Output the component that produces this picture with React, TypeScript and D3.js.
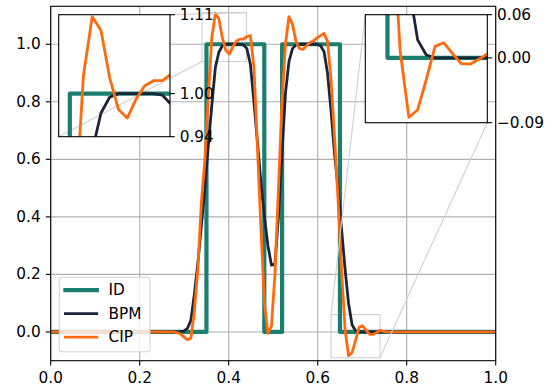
import React from "react";
import * as d3 from "d3";

// sample grid positions
const sampleX = [
  0, 0.2677, 0.2756, 0.2835, 0.2913, 0.2992, 0.3071, 0.315, 0.3228, 0.3307, 0.3386,
  0.3465, 0.3543, 0.3622, 0.3701, 0.378, 0.3858, 0.3937, 0.4016, 0.4094, 0.4173,
  0.4252, 0.4331, 0.4409, 0.4488, 0.4567, 0.4646, 0.4724, 0.4803, 0.4882, 0.4961,
  0.5039, 0.5118, 0.5197, 0.5276, 0.5354, 0.5433, 0.5512, 0.5591, 0.5669, 0.5748,
  0.5827, 0.5906, 0.5984, 0.6063, 0.6142, 0.622, 0.6299, 0.6378, 0.6457, 0.6535,
  0.6614, 0.6693, 0.6772, 0.685, 0.6929, 0.7008, 0.7087, 0.7165, 0.7244, 0.7323,
  0.7402, 0.748, 0.7559, 1,
];

const bpmValues = [
  0, 0, 0, 0, 0.001, 0.003, 0.012, 0.04, 0.13, 0.24, 0.37,
  0.5, 0.65, 0.79, 0.92, 0.973, 0.995, 1.0, 1.0, 1.0, 1.0,
  1.0, 0.998, 0.985, 0.93, 0.8, 0.66, 0.52, 0.4, 0.3, 0.232,
  0.235, 0.4, 0.62, 0.83, 0.94, 0.985, 0.998, 1.0, 1.0, 1.0,
  1.0, 1.0, 1.0, 0.995, 0.975, 0.9, 0.77, 0.62, 0.5, 0.36,
  0.22, 0.1, 0.025, 0.004, 0, 0, 0, 0, 0, 0,
  0, 0, 0, 0,
];

const cipValues = [
  0, 0, 0, -0.002, -0.007, -0.017, -0.027, -0.022, 0.07, 0.22, 0.45,
  0.6, 0.82, 1.025, 1.107, 1.088, 1.022, 0.978, 0.966, 0.992, 1.011,
  1.018, 1.018, 1.027, 1.03, 0.92, 0.64, 0.36, 0.1, -0.005, 0.02,
  0.2, 0.5, 0.8, 1.0, 1.096, 1.07, 1.01, 0.985, 0.982, 0.995,
  1.006, 1.012, 1.022, 1.03, 1.038, 1.01, 0.88, 0.68, 0.46, 0.22,
  0.01, -0.0825, -0.0723, -0.03, 0.016, 0.021, 0.006, -0.008, -0.0087, -0.002,
  0.0057, 0.002, 0, 0,
];

const idX = [0, 0.35, 0.35, 0.48, 0.48, 0.52, 0.52, 0.65, 0.65, 1];
const idValues = [0, 0, 1, 1, 0, 0, 1, 1, 0, 0];

const seriesNames = ["ID", "BPM", "CIP"];
const xTickValues = [0, 0.2, 0.4, 0.6, 0.8, 1.0];
const yTickValues = [0, 0.2, 0.4, 0.6, 0.8, 1.0];

const zoom1X = [0.34, 0.44];
const zoom1Y = [0.94, 1.11];
const zoom1Ticks = [0.94, 1.0, 1.11];
const zoom2X = [0.63, 0.74];
const zoom2Y = [-0.09, 0.06];
const zoom2Ticks = [-0.09, 0.0, 0.06];

const COLORS: Record<string, string> = { ID: "#1b7f6f", BPM: "#1c2438", CIP: "#ff6a0e" };
const WIDTHS: Record<string, number> = { ID: 4.2, BPM: 2.8, CIP: 2.8 };
const FONT = "'DejaVu Sans', sans-serif";
const FS = 15.3;
const TICK = 4.86;

type Pt = [number, number];

const seriesData: { name: string; pts: Pt[] }[] = [
  { name: "ID", pts: idX.map((v, i) => [v, idValues[i]] as Pt) },
  { name: "BPM", pts: sampleX.map((v, i) => [v, bpmValues[i]] as Pt) },
  { name: "CIP", pts: sampleX.map((v, i) => [v, cipValues[i]] as Pt) },
];

function Lines({ xs, ys, clip }: { xs: any; ys: any; clip: string }) {
  const line = d3
    .line<Pt>()
    .x((d) => xs(d[0]))
    .y((d) => ys(d[1]));
  return (
    <g clipPath={`url(#${clip})`}>
      {seriesData.map((s) => (
        <path
          key={s.name}
          d={line(s.pts) || ""}
          fill="none"
          stroke={COLORS[s.name]}
          strokeWidth={WIDTHS[s.name]}
          strokeLinejoin="round"
          strokeLinecap="square"
        />
      ))}
    </g>
  );
}

function Inset({
  id,
  xDom,
  yDom,
  box,
  ticks,
  connectors,
}: {
  id: string;
  xDom: number[];
  yDom: number[];
  box: { l: number; r: number; t: number; b: number };
  ticks: number[];
  connectors: [Pt, Pt][];
}) {
  const xs = d3.scaleLinear().domain(xDom).range([box.l, box.r]);
  const ys = d3.scaleLinear().domain(yDom).range([box.b, box.t]);
  const fmt = d3.format(".2f");
  return (
    <g>
      <defs>
        <clipPath id={id}>
          <rect x={box.l} y={box.t} width={box.r - box.l} height={box.b - box.t} />
        </clipPath>
      </defs>
      <rect x={box.l} y={box.t} width={box.r - box.l} height={box.b - box.t} fill="#fff" />
      {connectors.map((c, i) => (
        <line
          key={i}
          x1={c[0][0]}
          y1={c[0][1]}
          x2={c[1][0]}
          y2={c[1][1]}
          stroke="#d0d0d0"
          strokeWidth={1.1}
        />
      ))}
      <Lines xs={xs} ys={ys} clip={id} />
      <rect
        x={box.l}
        y={box.t}
        width={box.r - box.l}
        height={box.b - box.t}
        fill="none"
        stroke="#000"
        strokeWidth={1.1}
      />
      {ticks.map((t) => (
        <g key={t}>
          <line x1={box.r} x2={box.r + TICK} y1={ys(t)} y2={ys(t)} stroke="#000" strokeWidth={1.1} />
          <text
            x={box.r + TICK + 4.9}
            y={ys(t)}
            dominantBaseline="central"
            fontFamily={FONT}
            fontSize={FS}
            fill="#000"
          >
            {fmt(t)}
          </text>
        </g>
      ))}
    </g>
  );
}

export default function App() {
  const W = 557;
  const H = 391;
  const M = { left: 50.7, right: 495.7, top: 6.3, bottom: 360.7 };
  const x = d3.scaleLinear().domain([0, 1]).range([M.left, M.right]);
  const y = d3.scaleLinear().domain([-0.1, 1.132]).range([M.bottom, M.top]);
  const fmt1 = d3.format(".1f");

  const inset1Box = { l: 58.7, r: 170, t: 14.7, b: 136.7 };
  const inset2Box = { l: 365.3, r: 487.3, t: 14.7, b: 122.7 };

  const r1 = { l: x(zoom1X[0]), r: x(zoom1X[1]), t: y(zoom1Y[1]), b: y(zoom1Y[0]) };
  const r2 = { l: x(zoom2X[0]), r: x(zoom2X[1]), t: y(zoom2Y[1]), b: y(zoom2Y[0]) };

  const legendRows = [290.2, 313.7, 337.2];

  return (
    <svg
      width={W}
      height={H}
      style={{ position: "fixed", left: 0, top: 0, background: "#fff" }}
      fontFamily={FONT}
    >
      <defs>
        <clipPath id="mainClip">
          <rect x={M.left} y={M.top} width={M.right - M.left} height={M.bottom - M.top} />
        </clipPath>
      </defs>
      <rect x={0} y={0} width={W} height={H} fill="#fff" />

      {/* indicator rectangles */}
      {[r1, r2].map((r, i) => (
        <rect
          key={i}
          x={r.l}
          y={r.t}
          width={r.r - r.l}
          height={r.b - r.t}
          fill="none"
          stroke="#d0d0d0"
          strokeWidth={1.1}
        />
      ))}

      {/* grid */}
      {xTickValues.map((t) => (
        <line key={"gx" + t} x1={x(t)} x2={x(t)} y1={M.top} y2={M.bottom} stroke="#b0b0b0" strokeWidth={1.1} />
      ))}
      {yTickValues.map((t) => (
        <line key={"gy" + t} x1={M.left} x2={M.right} y1={y(t)} y2={y(t)} stroke="#b0b0b0" strokeWidth={1.1} />
      ))}

      <Lines xs={x} ys={y} clip="mainClip" />

      {/* frame */}
      <rect
        x={M.left}
        y={M.top}
        width={M.right - M.left}
        height={M.bottom - M.top}
        fill="none"
        stroke="#000"
        strokeWidth={1.1}
      />

      {/* ticks */}
      {xTickValues.map((t) => (
        <g key={"tx" + t}>
          <line x1={x(t)} x2={x(t)} y1={M.bottom} y2={M.bottom + TICK} stroke="#000" strokeWidth={1.1} />
          <text
            x={x(t)}
            y={377.6}
            textAnchor="middle"
            dominantBaseline="central"
            fontSize={FS}
            fill="#000"
          >
            {fmt1(t)}
          </text>
        </g>
      ))}
      {yTickValues.map((t) => (
        <g key={"ty" + t}>
          <line x1={M.left - TICK} x2={M.left} y1={y(t)} y2={y(t)} stroke="#000" strokeWidth={1.1} />
          <text
            x={M.left - TICK - 5.2}
            y={y(t)}
            textAnchor="end"
            dominantBaseline="central"
            fontSize={FS}
            fill="#000"
          >
            {fmt1(t)}
          </text>
        </g>
      ))}

      {/* legend */}
      <g>
        <rect
          x={59.3}
          y={277.3}
          width={90.7}
          height={74.4}
          rx={2.8}
          fill="#fff"
          fillOpacity={0.8}
          stroke="#cccccc"
          strokeOpacity={0.8}
          strokeWidth={1.1}
        />
        {seriesNames.map((n, i) => (
          <g key={n}>
            <line
              x1={65.4}
              x2={96.8}
              y1={legendRows[i]}
              y2={legendRows[i]}
              stroke={COLORS[n]}
              strokeWidth={WIDTHS[n]}
              strokeLinecap="square"
            />
            <text x={108.6} y={legendRows[i]} dominantBaseline="central" fontSize={FS} fill="#000">
              {n}
            </text>
          </g>
        ))}
      </g>

      <Inset
        id="inset1"
        xDom={zoom1X}
        yDom={zoom1Y}
        box={inset1Box}
        ticks={zoom1Ticks}
        connectors={[
          [[inset1Box.l, inset1Box.b], [r1.l, r1.b]],
          [[inset1Box.r, inset1Box.t], [r1.r, r1.t]],
        ]}
      />
      <Inset
        id="inset2"
        xDom={zoom2X}
        yDom={zoom2Y}
        box={inset2Box}
        ticks={zoom2Ticks}
        connectors={[
          [[inset2Box.l, inset2Box.t], [r2.l, r2.t]],
          [[inset2Box.r, inset2Box.b], [r2.r, r2.b]],
        ]}
      />
    </svg>
  );
}
